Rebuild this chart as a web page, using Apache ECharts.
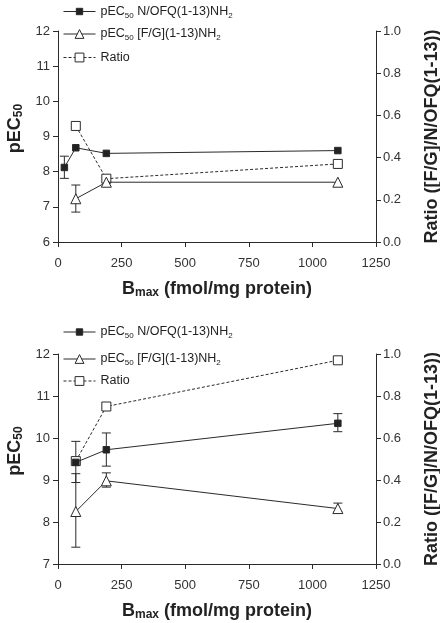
<!DOCTYPE html>
<html><head><meta charset="utf-8">
<script src="https://cdn.jsdelivr.net/npm/echarts@6/dist/echarts.min.js"></script>
<style>html,body{margin:0;padding:0;background:#fff}#c{width:440px;height:623px}</style>
</head><body><div id="c"></div>
<script>
// ---------- data ----------
const xTicks = [0, 250, 500, 750, 1000, 1250];
const nameNofq = 'pEC50 N/OFQ(1-13)NH2';
const nameFg = 'pEC50 [F/G](1-13)NH2';
const nameRatio = 'Ratio';

// top panel
const topNofqX = [25, 70, 190, 1100];
const topNofqY = [8.12, 8.68, 8.52, 8.60];
const topNofqLo = [7.81, null, null, null];
const topNofqHi = [8.44, null, null, null];
const topFgX = [70, 190, 1100];
const topFgY = [7.23, 7.70, 7.70];
const topFgLo = [6.85, null, null];
const topFgHi = [7.62, null, null];
const topRatioX = [70, 190, 1100];
const topRatioY = [0.55, 0.30, 0.37];

// bottom panel
const botX = [70, 190, 1100];
const botNofqY = [9.42, 9.72, 10.35];
const botNofqLo = [8.94, 9.33, 10.15];
const botNofqHi = [9.92, 10.12, 10.58];
const botFgY = [8.25, 8.98, 8.32];
const botFgLo = [7.40, 8.83, 8.24];
const botFgHi = [9.15, 9.17, 8.45];
const botRatioY = [0.49, 0.75, 0.97];

// ---------- styling ----------
const FF = '"Liberation Sans", Arial, Helvetica, sans-serif';
const INK = '#2a2a2a';

function errSeries(xs, lo, hi, xi, yi) {
  const data = [];
  xs.forEach((x, i) => { if (lo[i] != null) data.push([x, lo[i], hi[i]]); });
  return {
    type: 'custom', xAxisIndex: xi, yAxisIndex: yi, z: 1, silent: true, animation: false,
    data, encode: { x: 0, y: [1, 2] },
    renderItem(params, api) {
      const x = api.value(0);
      const p1 = api.coord([x, api.value(1)]);
      const p2 = api.coord([x, api.value(2)]);
      const w = 4.5;
      const style = { stroke: INK, lineWidth: 1 };
      return { type: 'group', children: [
        { type: 'line', shape: { x1: p1[0], y1: p1[1], x2: p2[0], y2: p2[1] }, style },
        { type: 'line', shape: { x1: p1[0] - w, y1: p1[1], x2: p1[0] + w, y2: p1[1] }, style },
        { type: 'line', shape: { x1: p2[0] - w, y1: p2[1], x2: p2[0] + w, y2: p2[1] }, style }
      ]};
    }
  };
}

function lineS(name, xs, ys, xi, yi, sym, size, fill, dashed, z) {
  return {
    type: 'line', name, xAxisIndex: xi, yAxisIndex: yi,
    data: xs.map((x, i) => [x, ys[i]]),
    symbol: sym, symbolSize: size, showAllSymbol: true, z, animation: false,
    lineStyle: { color: INK, width: 1, type: dashed ? [3, 2] : 'solid' },
    itemStyle: { color: fill, borderColor: INK, borderWidth: 1, opacity: 1 },
    emphasis: { disabled: true }
  };
}

const richLeg = {
  a: { fontSize: 12.5, fontFamily: FF, color: '#222', lineHeight: 16 },
  s: { fontSize: 8, fontFamily: FF, color: '#222', lineHeight: 9, verticalAlign: 'bottom' }
};
function legFmt(name) {
  if (name === nameNofq) return '{a|pEC}{s|50}{a| N/OFQ(1-13)NH}{s|2}';
  if (name === nameFg) return '{a|pEC}{s|50}{a| [F/G](1-13)NH}{s|2}';
  return '{a|' + name + '}';
}
function leg(name, top, itemH) {
  return {
    data: [name], top, left: 63, orient: 'vertical', padding: 0,
    itemWidth: 32, itemHeight: itemH, selectedMode: false,
    lineStyle: { width: 1 },
    itemStyle: { borderWidth: 1 },
    formatter: legFmt, textStyle: { rich: richLeg }
  };
}

const axisCommon = {
  axisLine: { show: true, lineStyle: { color: INK, width: 1 } },
  axisTick: { show: true, length: 5, lineStyle: { color: INK, width: 1 } },
  splitLine: { show: false }
};
const nameRich = {
  b: { fontSize: 18, fontWeight: 'bold', fontFamily: FF, color: '#222', lineHeight: 20 },
  s: { fontSize: 12, fontWeight: 'bold', fontFamily: FF, color: '#222', lineHeight: 12, verticalAlign: 'bottom' }
};

function xAx(gi) {
  return Object.assign({}, axisCommon, {
    type: 'value', gridIndex: gi, min: 0, max: 1250, interval: 250,
    axisLabel: { color: '#333', fontSize: 13, fontFamily: FF, margin: 15,
      formatter: v => String(v) },
    name: '{b|B}{s|max}{b| (fmol/mg protein)}', nameLocation: 'middle', nameGap: 37,
    nameTextStyle: { rich: nameRich }
  });
}
function yLeft(gi, min, max) {
  return Object.assign({}, axisCommon, {
    type: 'value', gridIndex: gi, min, max, interval: 1, position: 'left',
    axisLabel: { color: '#333', fontSize: 13, fontFamily: FF, margin: 8 },
    name: '{b|pEC}{s|50}', nameLocation: 'middle', nameGap: 32, nameRotate: 90,
    nameTextStyle: { rich: nameRich, padding: [0, 0, 0, 16] }
  });
}
function yRight(gi) {
  return Object.assign({}, axisCommon, {
    type: 'value', gridIndex: gi, min: 0, max: 1, interval: 0.2, position: 'right',
    axisLabel: { color: '#333', fontSize: 13, fontFamily: FF, margin: 7,
      formatter: v => v.toFixed(1) },
    name: 'Ratio ([F/G]/N/OFQ(1-13))', nameLocation: 'middle', nameGap: 46, nameRotate: 90,
    nameTextStyle: { fontSize: 18, fontWeight: 'bold', fontFamily: FF, color: '#222', lineHeight: 20 }
  });
}

const option = {
  backgroundColor: '#fff',
  animation: false,
  textStyle: { fontFamily: FF },
  grid: [
    { left: 58, right: 64, top: 31, height: 211, containLabel: false, outerBoundsMode: 'none' },
    { left: 58, right: 64, top: 354, height: 210, containLabel: false, outerBoundsMode: 'none' }
  ],
  xAxis: [xAx(0), xAx(1)],
  yAxis: [yLeft(0, 6, 12), yRight(0), yLeft(1, 7, 12), yRight(1)],
  legend: [
    leg(nameNofq, 5, 8), leg(nameFg, 27.5, 11), leg(nameRatio, 51, 11),
    leg(nameNofq, 325.5, 8), leg(nameFg, 352.5, 11), leg(nameRatio, 374.5, 11)
  ],
  series: [
    errSeries(topNofqX, topNofqLo, topNofqHi, 0, 0),
    errSeries(topFgX, topFgLo, topFgHi, 0, 0),
    lineS(nameRatio, topRatioX, topRatioY, 0, 1, 'rect', 9, '#fff', true, 2),
    lineS(nameFg, topFgX, topFgY, 0, 0, 'triangle', 10, '#fff', false, 3),
    lineS(nameNofq, topNofqX, topNofqY, 0, 0, 'rect', 6.5, '#222', false, 4),

    errSeries(botX, botNofqLo, botNofqHi, 1, 2),
    errSeries(botX, botFgLo, botFgHi, 1, 2),
    lineS(nameRatio, botX, botRatioY, 1, 3, 'rect', 9, '#fff', true, 2),
    lineS(nameFg, botX, botFgY, 1, 2, 'triangle', 10, '#fff', false, 3),
    lineS(nameNofq, botX, botNofqY, 1, 2, 'rect', 6.5, '#222', false, 4)
  ]
};

const chart = echarts.init(document.getElementById('c'), null, { renderer: 'canvas' });
chart.setOption(option);
</script>
</body></html>
